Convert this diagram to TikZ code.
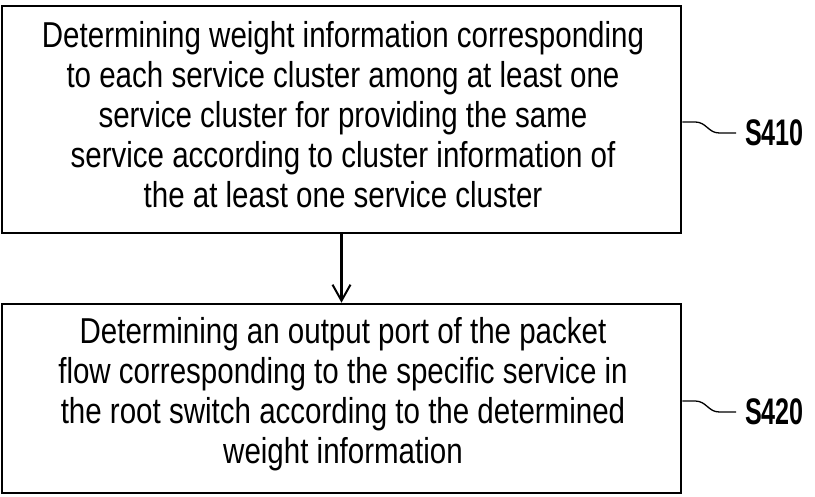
\documentclass[tikz,border=0pt]{standalone}
\usepackage{fontspec}
\usepackage{graphicx}
\setmainfont{Liberation Sans}
\newfontfamily\boxfont{Liberation Sans}[FakeStretch=0.82]
\usetikzlibrary{arrows.meta}
\begin{document}
\begin{tikzpicture}[x=1pt,y=-1pt,
  stepbox/.style={draw, line width=2.6pt, minimum width=679pt, inner sep=0pt},
  steptext/.style={inner sep=0pt, align=center, font=\boxfont\fontsize{36}{40}\selectfont},
  squig/.style={line width=1.3pt},
  lbl/.style={font=\bfseries\fontsize{37}{37}\selectfont, inner sep=0pt, anchor=west},
  flow/.style={line width=2.4pt, -{Straight Barb[length=16pt,width=18pt,line width=2pt]}}]
\useasboundingbox (0,0) rectangle (815,496);
\node[stepbox, minimum height=227pt] (b1) at (341.5,119.5) {};
\node[steptext] (t1) at (343,115)
  {Determining weight information corresponding\\
   to each service cluster among at least one\\
   service cluster for providing the same\\
   service according to cluster information of\\
   the at least one service cluster};
\node[stepbox, minimum height=189pt] (b2) at (341.5,398.5) {};
\node[steptext] (t2) at (343,394)
  {Determining an output port of the packet\\
   flow corresponding to the specific service in\\
   the root switch according to the determined\\
   weight information};
\node[lbl] (l1) at (745,133) {\scalebox{0.68}[1]{S410}};
\node[lbl] (l2) at (745,412) {\scalebox{0.68}[1]{S420}};
\draw[flow] (b1.south) -- (b2.north);
\draw[squig] ([yshift=-2.5pt]b1.east) -- ++(13,0) .. controls +(11,0) and +(-11,0) .. ++(24,11) -- ([xshift=-9pt]l1.west);
\draw[squig] ([yshift=-2.5pt]b2.east) -- ++(13,0) .. controls +(11,0) and +(-11,0) .. ++(24,11) -- ([xshift=-9pt]l2.west);
\end{tikzpicture}
\end{document}
